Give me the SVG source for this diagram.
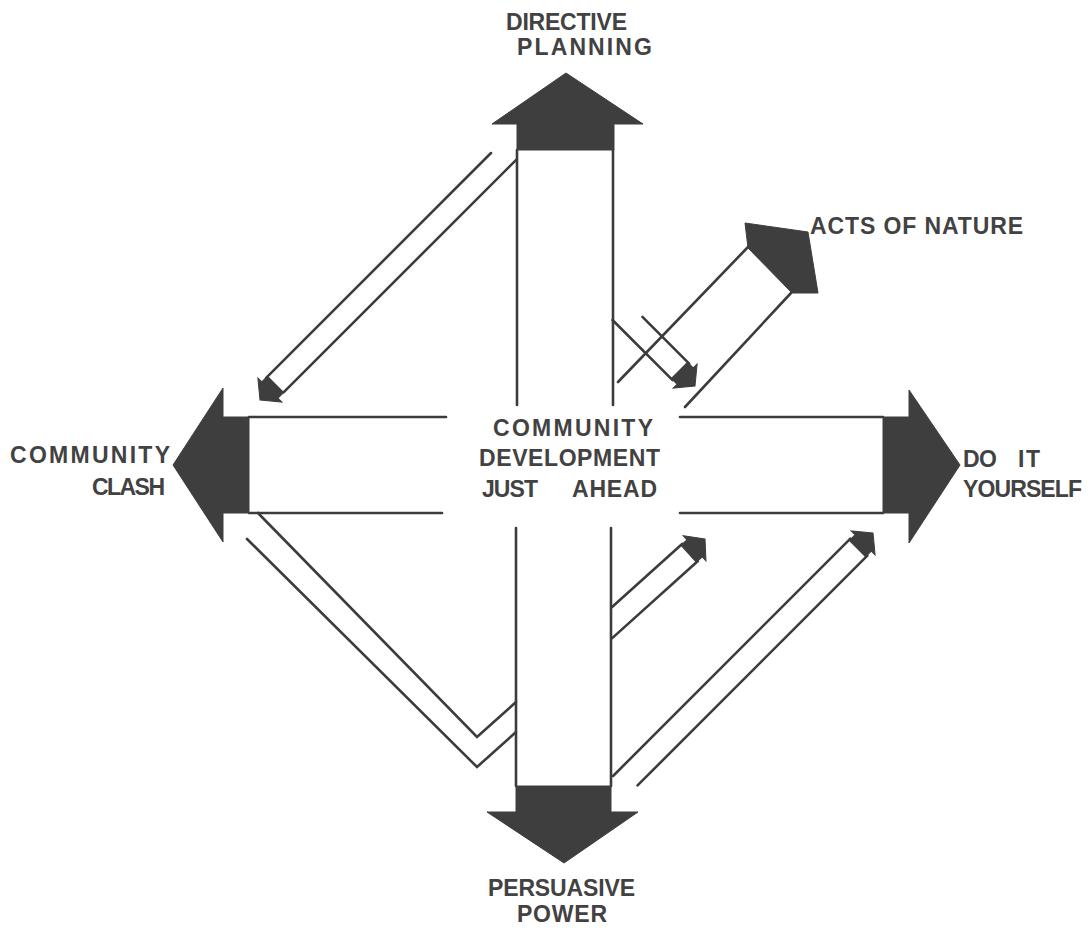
<svg xmlns="http://www.w3.org/2000/svg" width="1088" height="928" viewBox="0 0 1088 928">
<style>
.bg{fill:#ffffff}
.ln{fill:none;stroke:#3c3c3c;stroke-width:2.6;stroke-linecap:round;stroke-linejoin:miter}
.hd{fill:#3e3e3e;stroke:#3e3e3e;stroke-width:1;stroke-linejoin:miter}
.tx{font-family:"Liberation Sans","DejaVu Sans",sans-serif;font-weight:bold;font-size:23px;fill:#424242}
</style>
<defs>
<path id="smallhead" class="hd" d="M0,0 L-14,-17 L-14,-11.5 L-22,-11.5 L-22,11.5 L-14,11.5 L-14,17 Z"/>
</defs>
<rect class="bg" x="0" y="0" width="1088" height="928"/>

<g id="connectors">
  <!-- vertical shaft -->
  <line class="ln" x1="517" y1="150" x2="517" y2="405"/>
  <line class="ln" x1="613" y1="150" x2="613" y2="405"/>
  <line class="ln" x1="516" y1="528" x2="516" y2="786"/>
  <line class="ln" x1="611" y1="528" x2="611" y2="786"/>
  <!-- horizontal shaft -->
  <line class="ln" x1="249" y1="417" x2="446" y2="417"/>
  <line class="ln" x1="249" y1="513" x2="442" y2="513"/>
  <line class="ln" x1="680" y1="417" x2="883" y2="417"/>
  <line class="ln" x1="680" y1="513" x2="883" y2="513"/>

  <!-- upper-left arrow to COMMUNITY CLASH -->
  <g id="arrow-ul" transform="translate(260,400) rotate(135)">
    <line class="ln" x1="-20" y1="11.3" x2="-338" y2="11.3"/>
    <line class="ln" x1="-22" y1="-11.3" x2="-351" y2="-11.3"/>
    <use href="#smallhead"/>
  </g>

  <!-- small arrow from top shaft toward centre -->
  <g id="arrow-center-top" transform="translate(695,386) rotate(45)">
    <line class="ln" x1="-20" y1="11.7" x2="-105" y2="11.7"/>
    <line class="ln" x1="-20" y1="-11.7" x2="-86" y2="-11.7"/>
    <use href="#smallhead"/>
  </g>

  <!-- acts of nature arrow -->
  <g id="arrow-acts">
    <line class="ln" x1="618" y1="382" x2="748" y2="247"/>
    <line class="ln" x1="685" y1="407" x2="791" y2="293"/>
    <polygon class="hd" points="745,223 808,232 818,293 792,293 748,248"/>
  </g>

  <!-- small arrow from bottom shaft toward centre -->
  <g id="arrow-center-bottom" transform="translate(705,539) rotate(-42)">
    <line class="ln" x1="-20" y1="-11.6" x2="-114.6" y2="-11.6"/>
    <line class="ln" x1="-20" y1="11.6" x2="-135.3" y2="11.6"/>
    <use href="#smallhead"/>
  </g>

  <!-- long arrow to DO IT YOURSELF -->
  <g id="arrow-lr" transform="translate(873,533) rotate(-45)">
    <line class="ln" x1="-20" y1="-12" x2="-355.6" y2="-12"/>
    <line class="ln" x1="-20" y1="12" x2="-345" y2="12"/>
    <use href="#smallhead"/>
  </g>

  <!-- V-shaped band from COMMUNITY CLASH to PERSUASIVE POWER shaft -->
  <g id="band-ll">
    <polyline class="ln" points="258,513 477,737 516,702"/>
    <polyline class="ln" points="247,539 477,767 516,732"/>
  </g>
</g>

<g id="node-directive-planning">
  <polygon class="hd" points="566,73 643,124 614,124 614,150 517,150 517,124 492,124"/>
  <text class="tx" x="506" y="30" textLength="121">DIRECTIVE</text>
  <text class="tx" x="517" y="55" textLength="135">PLANNING</text>
</g>

<g id="node-community-clash">
  <polygon class="hd" points="173,465 223,388 223,417 249,417 249,513 223,513 223,542"/>
  <text class="tx" x="10" y="463" textLength="160">COMMUNITY</text>
  <text class="tx" x="92" y="495" textLength="73">CLASH</text>
</g>

<g id="node-do-it-yourself">
  <polygon class="hd" points="960,465 909,390 909,417 883,417 883,513 909,513 909,543"/>
  <text class="tx" x="963" y="467" textLength="34">DO</text>
  <text class="tx" x="1018" y="467" textLength="22">IT</text>
  <text class="tx" x="963" y="497" textLength="119">YOURSELF</text>
</g>

<g id="node-persuasive-power">
  <polygon class="hd" points="564,863 638,812 611,812 611,786 516,786 516,812 487,812"/>
  <text class="tx" x="488" y="896" textLength="147">PERSUASIVE</text>
  <text class="tx" x="517" y="922" textLength="90">POWER</text>
</g>

<g id="node-acts-of-nature">
  <text class="tx" x="810" y="234" textLength="213">ACTS OF NATURE</text>
</g>

<g id="node-center">
  <text class="tx" x="493" y="436" textLength="160">COMMUNITY</text>
  <text class="tx" x="479" y="466" textLength="181">DEVELOPMENT</text>
  <text class="tx" x="482" y="497" textLength="56">JUST</text>
  <text class="tx" x="572" y="497" textLength="85">AHEAD</text>
</g>
</svg>
